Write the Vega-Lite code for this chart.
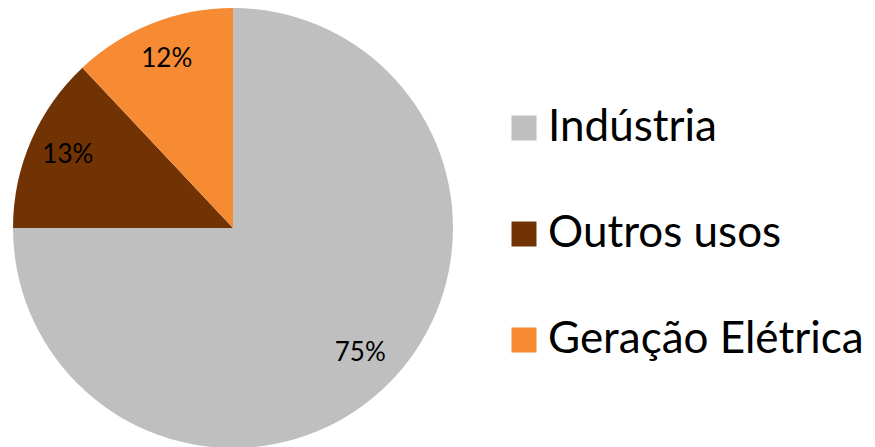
{
  "$schema": "https://vega.github.io/schema/vega-lite/v6.json",
  "width": 875,
  "height": 447,
  "autosize": {"type": "none"},
  "padding": 0,
  "background": "white",
  "config": {"view": {"stroke": null}},
  "data": {"values": [
    {"uso": "Indústria", "valor": 75, "ordem": 1, "rotulo": "75%"},
    {"uso": "Outros usos", "valor": 13, "ordem": 2, "rotulo": "13%"},
    {"uso": "Geração Elétrica", "valor": 12, "ordem": 3, "rotulo": "12%"}
  ]},
  "encoding": {
    "theta": {"field": "valor", "type": "quantitative", "stack": true},
    "order": {"field": "ordem", "type": "quantitative", "sort": "ascending"}
  },
  "layer": [
    {
      "mark": {"type": "arc", "outerRadius": 220, "x": 233, "y": 228},
      "encoding": {
        "color": {
          "field": "uso",
          "type": "nominal",
          "scale": {"domain": ["Indústria", "Outros usos", "Geração Elétrica"], "range": ["#BFBFBF", "#713204", "#F68B33"]},
          "legend": {
            "title": null,
            "orient": "none",
            "legendX": 502,
            "legendY": 106,
            "symbolType": "square",
            "symbolSize": 625,
            "symbolStrokeWidth": 0,
            "labelFont": "Lato",
            "labelFontSize": 44,
            "labelColor": "black",
            "labelLimit": 400,
            "labelOffset": 2,
            "rowPadding": 62
          }
        }
      }
    },
    {
      "mark": {"type": "text", "radius": 180, "x": 233, "y": 226, "font": "Lato", "fontSize": 26, "color": "black"},
      "encoding": {
        "text": {"field": "rotulo", "type": "nominal"}
      }
    }
  ]
}
